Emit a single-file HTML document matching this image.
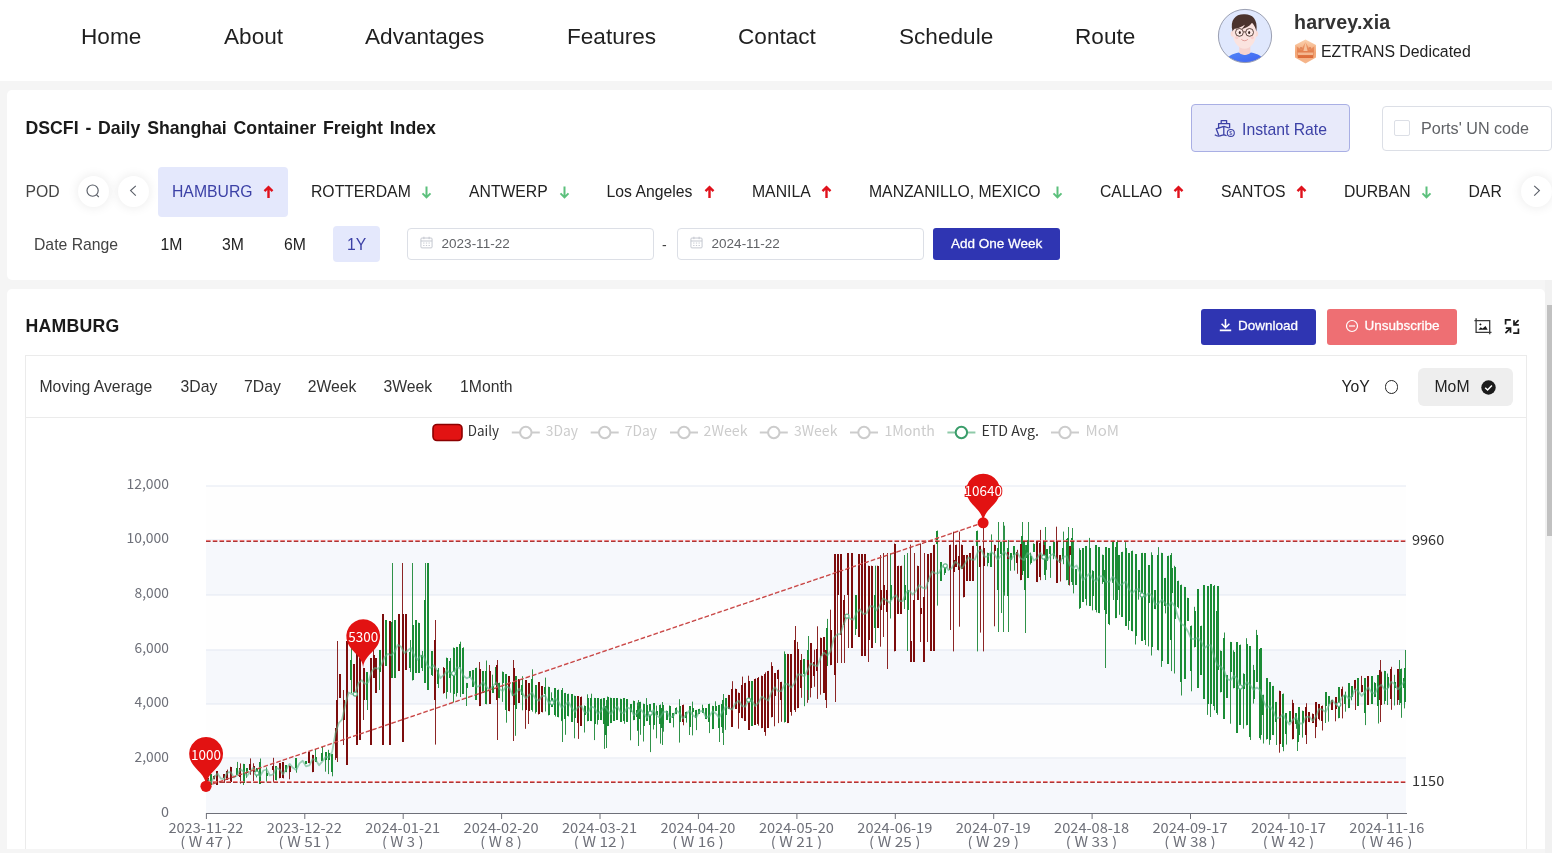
<!DOCTYPE html><html lang="en"><head><meta charset="utf-8"><title>DSCFI - Daily Shanghai Container Freight Index</title><style>
*{box-sizing:border-box;margin:0;padding:0}
html,body{width:1552px;height:853px;overflow:hidden;background:#f5f5f5;font-family:"Liberation Sans",sans-serif;color:#303133}
.abs{position:absolute}
#hdr{position:absolute;left:0;top:0;width:1552px;height:81px;background:#fff}
.nav{position:absolute;top:22.5px;font-size:22.6px;line-height:28px;color:#1f1f1f;white-space:nowrap}
#card1{position:absolute;left:7px;top:90px;width:1560px;height:190px;background:#fff;border-radius:5px}
#card2{position:absolute;left:7px;top:289px;width:1538px;height:580px;background:#fff;border-radius:5px}
.t{position:absolute;white-space:nowrap;font-size:15.75px;line-height:20px}
.h{position:absolute;white-space:nowrap;font-size:17.7px;line-height:22px;font-weight:bold;color:#1a1a1a;letter-spacing:0.25px}
.tab{position:absolute;top:182px;font-size:15.75px;line-height:20px;color:#222;white-space:nowrap}
.circ{position:absolute;width:31px;height:31px;border-radius:50%;background:#fff;box-shadow:0 0 12px rgba(0,0,0,.09)}
.inp{position:absolute;top:228px;height:32px;border:1px solid #dcdfe6;border-radius:4px;background:#fff}
.inp span{position:absolute;left:33.6px;top:7px;font-size:13.5px;line-height:16px;color:#606266}
.btn{position:absolute;border-radius:3px;color:#fff;font-size:13.5px;line-height:16px;white-space:nowrap}
svg{position:absolute;overflow:visible}
</style></head><body>
<div id="hdr">
<div class="nav" style="left:81px">Home</div>
<div class="nav" style="left:224px">About</div>
<div class="nav" style="left:365px">Advantages</div>
<div class="nav" style="left:567px">Features</div>
<div class="nav" style="left:738px">Contact</div>
<div class="nav" style="left:899px">Schedule</div>
<div class="nav" style="left:1075px">Route</div>
<svg style="left:1218px;top:9px" width="54" height="54" viewBox="0 0 54 54"><defs><clipPath id="avc"><circle cx="27" cy="27" r="26.5"/></clipPath><linearGradient id="sh" x1="0" y1="0" x2="1" y2="1"><stop offset="0" stop-color="#4f86f7"/><stop offset="1" stop-color="#3d5cf0"/></linearGradient><linearGradient id="cr" x1="0" y1="0" x2="0" y2="1"><stop offset="0" stop-color="#fbd2b0"/><stop offset="0.55" stop-color="#f2a676"/><stop offset="1" stop-color="#f6b88f"/></linearGradient><linearGradient id="cr2" x1="0" y1="0" x2="0" y2="1"><stop offset="0" stop-color="#f0a273"/><stop offset="1" stop-color="#dc6a38"/></linearGradient></defs>
<circle cx="27" cy="27" r="26.5" fill="#e0e8fd"/>
<g clip-path="url(#avc)">
<path d="M6 56C7 48 14 44.6 21 43.4L27 45.8L33 43.4C40 44.6 47 48 48 56Z" fill="url(#sh)"/>
<path d="M21.3 35H32.3V43.8C30.3 46.6 23.3 46.6 21.3 43.8Z" fill="#f7d3cf"/>
<ellipse cx="14.6" cy="24.8" rx="2" ry="2.9" fill="#f9dcd8"/><ellipse cx="38.2" cy="24.8" rx="2" ry="2.9" fill="#f9dcd8"/>
<path d="M15 16C15 9 38 9 38 16V26C38 33 32.4 39.8 26.5 39.8C20.6 39.8 15 33 15 26Z" fill="#fbe3df"/>
<path d="M14.6 22.4C11.6 11 17.6 5 26 5.2C33.4 4.8 40.2 9 38.4 22.4C37.8 19.4 36.4 16.6 34 13.8C31.6 17.4 27 19.4 23.6 20.2C25 18.8 26.2 17.4 26.8 15.8C23.6 18.2 19.6 19.6 16.6 19.8C15.6 20.4 15 21.4 14.6 22.4Z" fill="#4a332d"/>
<circle cx="21.4" cy="23.4" r="3.9" fill="#fce9e6" stroke="#4a332d" stroke-width="0.9"/><circle cx="31.6" cy="23.4" r="3.9" fill="#fce9e6" stroke="#4a332d" stroke-width="0.9"/>
<path d="M25.3 22.9H27.7" stroke="#4a332d" stroke-width="0.9"/>
<ellipse cx="21.8" cy="23.5" rx="1.05" ry="1.55" fill="#3a2723"/><ellipse cx="31.2" cy="23.5" rx="1.05" ry="1.55" fill="#3a2723"/>
<circle cx="18.8" cy="28.6" r="1.6" fill="#f8c6c4" opacity=".7"/><circle cx="34.2" cy="28.6" r="1.6" fill="#f8c6c4" opacity=".7"/>
<path d="M23.6 30.6C25 32.2 28.2 32.2 29.6 30.6" fill="none" stroke="#d9837c" stroke-width="0.7" stroke-linecap="round"/>
</g>
<circle cx="27" cy="27" r="26.6" fill="none" stroke="#9a9fb2" stroke-width="1"/>
</svg>
<svg style="left:1294px;top:39px" width="23" height="25" viewBox="0 0 23 25"><path d="M11.5 0.4L22 6V18.6L11.5 24.6L1 18.6V6Z" fill="url(#cr)"/><path d="M2.6 7.2L7.2 10.6L11.5 3.2L15.8 10.6L20.4 7.2L19.2 19H3.8Z" fill="url(#cr2)"/><path d="M3.6 13.6H19.4L19 16H4Z" fill="#f7c39d" opacity=".85"/><path d="M11.5 3.2L13.6 12H9.4Z" fill="#f9cfae" opacity=".8"/><circle cx="7" cy="9" r="0.8" fill="#c85a2c"/><circle cx="16" cy="9" r="0.8" fill="#c85a2c"/></svg>

<div class="abs" style="left:1294px;top:10px;font-size:19.6px;line-height:24px;font-weight:bold;color:#333;white-space:nowrap;letter-spacing:0.2px">harvey.xia</div>
<div class="abs" style="left:1321px;top:42px;font-size:15.85px;line-height:20px;color:#222;white-space:nowrap">EZTRANS Dedicated</div>
</div>
<div id="card1"></div>
<div class="h" style="left:25.5px;top:117px;word-spacing:1.9px;letter-spacing:0">DSCFI - Daily Shanghai Container Freight Index</div>
<div class="abs" style="left:1191px;top:104px;width:159px;height:48px;border:1px solid #a9afe4;border-radius:4px;background:#e8eafa"></div>
<svg style="left:1214px;top:119px" width="22" height="19" viewBox="0 0 22 19"><g fill="none" stroke="#3c41a6" stroke-width="1.3" stroke-linejoin="round"><path d="M7.2 4.4V1.6H12.6V4.4"/><path d="M4.6 9.6V4.6H15.6V9.2"/><path d="M9.8 7.4L2.2 9.8L4.8 16.4M9.8 7.4V16.2M9.8 7.4L15 9"/><path d="M0.8 15.8C3 17.4 5.4 17.4 7.6 16.4C9.2 15.7 10.6 15.7 12.6 16.8"/><circle cx="16.8" cy="14" r="3.5" fill="#e8eafa" stroke-width="1.1"/></g><text x="16.8" y="16" font-size="5.5" font-family="Liberation Sans, sans-serif" fill="#3c41a6" text-anchor="middle">$</text></svg>

<div class="t" style="left:1242px;top:120px;color:#3c41a6">Instant Rate</div>
<div class="abs" style="left:1382px;top:106px;width:170px;height:45px;border:1px solid #dcdfe6;border-radius:4px;background:#fff"></div>
<div class="abs" style="left:1394px;top:120px;width:15.5px;height:15.5px;border:1px solid #dcdfe6;border-radius:2px;background:#fff"></div>
<div class="t" style="left:1421px;top:118px;color:#606266;font-size:16.15px">Ports' UN code</div>
<div class="t" style="left:25.5px;top:182px;color:#444">POD</div>
<div class="circ" style="left:77.5px;top:176px"></div>
<svg style="left:85px;top:183px" width="16" height="16" viewBox="0 0 16 16"><circle cx="7.6" cy="7.6" r="5.6" fill="none" stroke="#5a5f68" stroke-width="1.15"/><path d="M11.6 11.8L13.8 14" stroke="#5a5f68" stroke-width="1.15" fill="none"/></svg>
<div class="circ" style="left:117.5px;top:176px"></div>
<svg style="left:127px;top:184px" width="12" height="14" viewBox="0 0 12 14"><path d="M8.8 1.9L3.6 6.6L8.8 11.7" stroke="#5a5f68" stroke-width="1.15" fill="none"/></svg>
<div class="abs" style="left:158px;top:167px;width:130px;height:50px;border-radius:4px;background:#e4e8fc"></div>
<div class="tab" style="left:172px;color:#3c41a6">HAMBURG</div>
<svg style="left:263px;top:185px" width="11" height="13" viewBox="0 0 11 13"><path d="M5.5 13V2.4M1.5 6.1L5.5 2.1L9.5 6.1" fill="none" stroke="#e0121c" stroke-width="2.4" stroke-linejoin="miter"/></svg>
<div class="tab" style="left:311px;color:#222">ROTTERDAM</div>
<svg style="left:421px;top:186.4px" width="11" height="13" viewBox="0 0 11 13"><path d="M5.5 0.5V11.2M1.5 7.4L5.5 11.4L9.5 7.4" fill="none" stroke="#5cc07c" stroke-width="2.0" stroke-linejoin="miter"/></svg>
<div class="tab" style="left:469px;color:#222">ANTWERP</div>
<svg style="left:559px;top:186.4px" width="11" height="13" viewBox="0 0 11 13"><path d="M5.5 0.5V11.2M1.5 7.4L5.5 11.4L9.5 7.4" fill="none" stroke="#5cc07c" stroke-width="2.0" stroke-linejoin="miter"/></svg>
<div class="tab" style="left:606.5px;color:#222">Los Angeles</div>
<svg style="left:704px;top:185px" width="11" height="13" viewBox="0 0 11 13"><path d="M5.5 13V2.4M1.5 6.1L5.5 2.1L9.5 6.1" fill="none" stroke="#e0121c" stroke-width="2.4" stroke-linejoin="miter"/></svg>
<div class="tab" style="left:752px;color:#222">MANILA</div>
<svg style="left:821px;top:185px" width="11" height="13" viewBox="0 0 11 13"><path d="M5.5 13V2.4M1.5 6.1L5.5 2.1L9.5 6.1" fill="none" stroke="#e0121c" stroke-width="2.4" stroke-linejoin="miter"/></svg>
<div class="tab" style="left:869px;color:#222">MANZANILLO, MEXICO</div>
<svg style="left:1052px;top:186.4px" width="11" height="13" viewBox="0 0 11 13"><path d="M5.5 0.5V11.2M1.5 7.4L5.5 11.4L9.5 7.4" fill="none" stroke="#5cc07c" stroke-width="2.0" stroke-linejoin="miter"/></svg>
<div class="tab" style="left:1100px;color:#222">CALLAO</div>
<svg style="left:1173px;top:185px" width="11" height="13" viewBox="0 0 11 13"><path d="M5.5 13V2.4M1.5 6.1L5.5 2.1L9.5 6.1" fill="none" stroke="#e0121c" stroke-width="2.4" stroke-linejoin="miter"/></svg>
<div class="tab" style="left:1221px;color:#222">SANTOS</div>
<svg style="left:1296px;top:185px" width="11" height="13" viewBox="0 0 11 13"><path d="M5.5 13V2.4M1.5 6.1L5.5 2.1L9.5 6.1" fill="none" stroke="#e0121c" stroke-width="2.4" stroke-linejoin="miter"/></svg>
<div class="tab" style="left:1344px;color:#222">DURBAN</div>
<svg style="left:1421px;top:186.4px" width="11" height="13" viewBox="0 0 11 13"><path d="M5.5 0.5V11.2M1.5 7.4L5.5 11.4L9.5 7.4" fill="none" stroke="#5cc07c" stroke-width="2.0" stroke-linejoin="miter"/></svg>
<div class="tab" style="left:1468.5px;color:#222;width:32.2px;overflow:hidden">DAR</div>
<div class="circ" style="left:1520.5px;top:176px"></div>
<svg style="left:1531px;top:184px" width="12" height="14" viewBox="0 0 12 14"><path d="M3.2 1.9L8.4 6.6L3.2 11.7" stroke="#5a5f68" stroke-width="1.15" fill="none"/></svg>
<div class="t" style="left:34px;top:235px;color:#444">Date Range</div>
<div class="abs" style="left:333px;top:226px;width:47px;height:36px;border-radius:4px;background:#e4e8fc"></div>
<div class="t" style="left:160.5px;top:235px;color:#222">1M</div>
<div class="t" style="left:222px;top:235px;color:#222">3M</div>
<div class="t" style="left:284px;top:235px;color:#222">6M</div>
<div class="t" style="left:347px;top:235px;color:#3c41a6">1Y</div>
<div class="inp" style="left:407px;width:247px"><svg style="left:12px;top:6.9px" width="13" height="13" viewBox="0 0 14 14"><rect x="1" y="2.2" width="12" height="10.6" rx="1" fill="none" stroke="#c0c4cc" stroke-width="1"/><path d="M1 5.4H13M4.2 0.8V3.4M9.8 0.8V3.4" stroke="#c0c4cc" stroke-width="1" fill="none"/><path d="M3.4 7.6H4.8M6.3 7.6H7.7M9.2 7.6H10.6M3.4 10.2H4.8M6.3 10.2H7.7M9.2 10.2H10.6" stroke="#c0c4cc" stroke-width="1"/></svg><span>2023-11-22</span></div>
<div class="t" style="left:662px;top:235px;color:#444;font-size:14px">-</div>
<div class="inp" style="left:677px;width:247px"><svg style="left:12px;top:6.9px" width="13" height="13" viewBox="0 0 14 14"><rect x="1" y="2.2" width="12" height="10.6" rx="1" fill="none" stroke="#c0c4cc" stroke-width="1"/><path d="M1 5.4H13M4.2 0.8V3.4M9.8 0.8V3.4" stroke="#c0c4cc" stroke-width="1" fill="none"/><path d="M3.4 7.6H4.8M6.3 7.6H7.7M9.2 7.6H10.6M3.4 10.2H4.8M6.3 10.2H7.7M9.2 10.2H10.6" stroke="#c0c4cc" stroke-width="1"/></svg><span>2024-11-22</span></div>
<div class="btn" style="left:933px;top:228px;width:127px;height:32px;background:#2f35b2;padding:8px 0 0 18px;-webkit-text-stroke:0.28px #fff">Add One Week</div>
<div id="card2"></div>
<div class="h" style="left:25.5px;top:315px">HAMBURG</div>
<div class="btn" style="left:1201px;top:309px;width:115px;height:36px;background:#2f35b2;padding:9px 0 0 37px;-webkit-text-stroke:0.28px #fff">Download</div>
<svg style="left:1219px;top:318.2px" width="13" height="14" viewBox="0 0 13 14"><path d="M6.5 1V9.4M2.6 5.8L6.5 9.7L10.4 5.8M0.8 12.4H12.2" stroke="#fff" stroke-width="1.6" fill="none"/></svg>
<div class="btn" style="left:1327px;top:309px;width:130px;height:36px;background:#ee6f73;padding:9px 0 0 37.5px;-webkit-text-stroke:0.28px #fff">Unsubscribe</div>
<svg style="left:1345px;top:318.9px" width="14" height="14" viewBox="0 0 14 14"><circle cx="7" cy="7" r="5.5" fill="none" stroke="#fff" stroke-width="1.2"/><path d="M4 7H10" stroke="#fff" stroke-width="1.2"/></svg>
<svg style="left:1473px;top:317px" width="20" height="19" viewBox="0 0 20 19"><path d="M3.1 1.2V15.3H18.5M1.4 3.7H16.7V17.3" fill="none" stroke="#3a3a3a" stroke-width="1.3"/><path d="M5.4 12.8L7.6 10.2L9.6 11.6L12.5 9L14.7 12.8Z" fill="#1a1a1a"/><path d="M7.4 6.2L8.6 7.4L7.4 8.6L6.2 7.4Z" fill="#1a1a1a"/></svg>
<svg style="left:1504px;top:318px" width="16" height="17" viewBox="0 0 16 17"><g fill="none" stroke="#1a1a1a" stroke-width="1.7"><path d="M1.6 6.6V1.9H6.8"/><path d="M14.4 10.4V15.2H9.2"/><path d="M14.6 2.2L10.2 6.6M10 2.2V6.9H14.8"/><path d="M1.4 15.2L6.2 10.4M1.8 10.2H6.5V14.8"/></g></svg>

<div class="abs" style="left:25px;top:355px;width:1502px;height:520px;border:1px solid #ebebeb;background:#fff"></div>
<div class="abs" style="left:25px;top:417px;width:1502px;height:1px;background:#ebebeb"></div>
<div class="t" style="left:39.5px;top:377.3px;color:#333">Moving Average</div>
<div class="t" style="left:180.5px;top:377.3px;color:#333">3Day</div>
<div class="t" style="left:244px;top:377.3px;color:#333">7Day</div>
<div class="t" style="left:307.7px;top:377.3px;color:#333">2Week</div>
<div class="t" style="left:383.5px;top:377.3px;color:#333">3Week</div>
<div class="t" style="left:460px;top:377.3px;color:#333">1Month</div>
<div class="t" style="left:1341.5px;top:377.3px;color:#222">YoY</div>
<div class="abs" style="left:1384.5px;top:380px;width:13.5px;height:13.5px;border:1.8px solid #222;border-radius:50%"></div>
<div class="abs" style="left:1418px;top:368px;width:95px;height:38px;border-radius:6px;background:#eeeeee"></div>
<div class="t" style="left:1434.5px;top:377.3px;color:#222">MoM</div>
<svg style="left:1481px;top:379.5px" width="15" height="15" viewBox="0 0 15 15"><circle cx="7.5" cy="7.5" r="7.2" fill="#1a1a1a"/><path d="M4.2 7.7L6.6 10L10.9 5.4" stroke="#fff" stroke-width="1.5" fill="none"/></svg>
<svg style="left:0;top:0" width="1552" height="853" viewBox="0 0 1552 853">
<rect x="206.0" y="758.50" width="1200.0" height="54.50" fill="#f6f8fc"/>
<rect x="206.0" y="704.00" width="1200.0" height="54.50" fill="#fefefe"/>
<rect x="206.0" y="649.50" width="1200.0" height="54.50" fill="#f6f8fc"/>
<rect x="206.0" y="595.00" width="1200.0" height="54.50" fill="#fefefe"/>
<rect x="206.0" y="540.50" width="1200.0" height="54.50" fill="#f6f8fc"/>
<rect x="206.0" y="486.00" width="1200.0" height="54.50" fill="#fefefe"/>
<path d="M206.0 758H1406.0" stroke="#e3e8f2" stroke-width="1"/>
<path d="M206.0 704H1406.0" stroke="#e3e8f2" stroke-width="1"/>
<path d="M206.0 650H1406.0" stroke="#e3e8f2" stroke-width="1"/>
<path d="M206.0 595H1406.0" stroke="#e3e8f2" stroke-width="1"/>
<path d="M206.0 540H1406.0" stroke="#e3e8f2" stroke-width="1"/>
<path d="M206.0 486H1406.0" stroke="#e3e8f2" stroke-width="1"/>
<path d="M210.5 774.4V784.8M237.5 761.9V775.1M243.5 763.8V785.0M246.5 768.3V777.8M256.5 768.3V777.4M260.5 758.5V783.7M266.5 767.4V781.6M276.5 766.0V780.4M286.5 765.5V772.2M296.5 758.5V772.7M306.5 761.1V763.9M315.5 749.1V761.6M322.5 746.2V760.9M325.5 752.2V771.7M328.5 749.8V774.1M332.5 753.8V776.3M446.5 657.6V698.7M450.5 658.0V692.8M453.5 647.5V702.4M456.5 646.9V696.5M460.5 641.7V697.0M463.5 647.3V693.9M466.5 682.9V706.0M469.5 671.3V677.9M473.5 670.5V686.9M476.5 667.7V699.6M483.5 671.0V693.0M486.5 660.5V704.3M492.5 674.7V692.5M496.5 667.1V687.6M499.5 682.7V698.2M502.5 671.5V701.9M506.5 674.5V722.7M512.5 682.3V696.1M515.5 676.1V735.8M522.5 676.2V710.3M532.5 669.3V711.7M535.5 685.0V713.5M545.5 677.6V711.5M548.5 686.7V715.4M551.5 692.3V706.7M555.5 688.3V716.5M558.5 689.5V717.3M561.5 692.5V721.1M565.5 692.9V734.8M568.5 693.7V716.4M571.5 694.0V721.6M574.5 695.7V738.3M584.5 705.4V732.5M587.5 694.3V721.3M591.5 693.7V721.1M594.5 697.9V740.1M597.5 698.1V724.6M601.5 698.6V720.1M604.5 698.5V748.9M607.5 696.5V726.1M610.5 697.7V723.1M614.5 698.1V720.6M617.5 698.5V719.5M620.5 698.7V721.8M624.5 698.1V723.8M627.5 699.3V721.9M630.5 704.0V740.3M633.5 700.6V720.2M637.5 702.6V730.9M640.5 701.8V734.8M643.5 703.6V741.5M646.5 698.1V721.1M650.5 704.1V752.1M653.5 703.5V729.5M656.5 705.5V738.3M660.5 704.5V743.6M663.5 705.2V731.7M666.5 710.6V719.8M669.5 705.5V722.9M673.5 713.3V727.4M676.5 707.3V714.2M679.5 699.2V742.6M686.5 711.6V722.6M689.5 706.5V735.0M692.5 701.6V735.4M696.5 709.9V730.1M699.5 708.8V713.8M702.5 704.7V712.5M706.5 708.3V719.1M709.5 703.7V733.1M712.5 705.8V729.1M715.5 701.3V711.2M719.5 704.9V742.0M722.5 704.4V733.0M725.5 698.2V729.9M751.5 681.4V725.9M784.5 651.4V722.5M804.5 659.5V706.2M827.5 618.9V666.0M987.5 552.7V566.3M991.5 534.4V566.5M997.5 556.8V578.8M1001.5 541.7V613.0M1004.5 525.7V595.7M1010.5 553.0V570.8M1014.5 546.0V570.6M1024.5 540.6V572.7M1027.5 541.7V564.5M1030.5 552.6V564.5M1033.5 543.3V552.0M1046.5 549.0V569.9M1050.5 546.3V577.9M1053.5 541.7V559.2M1063.5 531.6V564.2M1066.5 539.4V580.3M1073.5 540.4V593.4M1076.5 569.0V584.9M1079.5 548.2V608.9M1083.5 548.0V601.6M1086.5 546.5V605.4M1089.5 537.9V605.9M1092.5 570.2V610.4M1096.5 545.2V612.4M1099.5 547.5V613.2M1102.5 554.6V583.9M1106.5 547.5V613.7M1109.5 548.2V625.1M1112.5 559.5V582.9M1115.5 547.4V618.2M1119.5 555.2V614.8M1122.5 551.8V616.7M1125.5 542.1V625.7M1128.5 553.3V629.9M1132.5 550.6V631.3M1135.5 554.4V644.5M1138.5 570.4V599.7M1142.5 552.9V641.0M1145.5 569.2V643.8M1148.5 565.1V646.4M1151.5 552.3V655.5M1155.5 590.5V609.2M1158.5 547.1V650.4M1161.5 552.8V666.9M1165.5 577.9V613.4M1168.5 555.7V663.9M1171.5 567.5V671.1M1174.5 565.8V673.5M1178.5 580.7V608.3M1181.5 584.6V695.5M1184.5 586.9V678.9M1187.5 597.8V620.9M1191.5 625.5V691.3M1194.5 606.8V647.4M1197.5 589.4V687.5M1201.5 625.7V674.9M1204.5 585.4V698.9M1207.5 586.4V714.9M1210.5 584.3V717.0M1214.5 585.0V710.2M1217.5 610.9V714.8M1220.5 650.5V692.4M1224.5 632.5V719.0M1227.5 675.0V697.7M1230.5 641.9V723.7M1233.5 650.3V688.3M1237.5 642.3V733.0M1240.5 644.6V724.6M1243.5 673.3V728.7M1246.5 638.2V725.3M1250.5 646.1V740.0M1253.5 664.9V703.6M1256.5 629.9V681.8M1260.5 648.6V739.7M1263.5 694.7V743.5M1266.5 678.2V739.6M1269.5 682.0V744.8M1273.5 685.9V735.1M1276.5 701.9V745.0M1283.5 693.5V751.2M1286.5 713.0V744.6M1289.5 711.1V722.4M1296.5 713.1V728.8M1299.5 707.1V734.6M1302.5 710.6V737.6M1325.5 692.5V723.0M1328.5 696.0V721.7M1338.5 687.3V718.3M1345.5 691.6V711.7M1348.5 683.3V708.1M1351.5 686.2V700.3M1358.5 678.2V705.7M1365.5 678.3V725.1M1371.5 676.2V703.8M1374.5 682.2V697.1M1378.5 675.1V723.5M1384.5 670.8V704.2M1387.5 673.5V705.0M1394.5 674.8V705.5M1401.5 668.5V717.8M1404.5 678.3V708.4M351.5 648.0V693.0M367.5 672.0V710.0M379.5 650.0V690.0M385.5 620.0V666.0M392.5 563.0V678.0M395.5 620.0V678.0M410.5 640.0V672.0M412.5 563.0V680.5M415.5 620.0V673.0M418.5 622.7V673.0M422.5 651.0V671.0M425.5 563.0V683.0M428.5 563.0V690.0M432.5 651.0V676.0M438.5 668.0V688.0M562.5 688.0V742.0M606.5 700.0V748.0M638.5 700.0V746.0M662.5 702.0V745.0M723.5 694.0V745.0M808.5 636.0V700.0M998.5 522.0V632.0M1003.5 522.0V632.0M1008.5 540.0V632.0M1022.5 522.0V575.0M1028.5 522.0V578.0M1025.5 545.0V633.0M1045.5 527.0V580.0M1068.5 527.0V585.0M1072.5 528.0V585.0M1105.5 560.0V668.0M1113.5 540.0V600.0M1117.5 540.0V600.0M1145.5 553.0V645.0M1171.5 553.0V660.0M1214.5 586.0V680.0M1217.5 586.0V684.0M1261.5 648.0V735.0M1297.5 720.0V751.0M1399.5 660.0V705.0M1405.5 650.0V702.0M855.5 595.0V635.0M875.5 565.7V643.0M890.5 553.0V618.5M904.5 555.0V609.0M907.5 553.0V651.0M937.5 530.6V605.6M941.5 562.0V581.0M944.5 565.0V575.0M977.5 530.6V651.4" stroke="#2f9249" stroke-width="1" fill="none"/>
<path d="M207.5 777.5V785.6M214.5 775.5V779.3M217.5 771.0V784.7M224.5 774.5V782.9M227.5 769.6V779.8M230.5 766.8V783.0M240.5 763.4V783.6M250.5 758.4V774.8M253.5 763.3V781.1M273.5 757.8V782.0M279.5 763.1V778.3M283.5 762.3V778.4M289.5 765.4V779.3M309.5 752.0V763.2M312.5 754.8V772.2M335.5 728.5V759.9M443.5 667.0V693.7M479.5 662.0V706.1M489.5 665.0V703.8M509.5 676.5V711.3M519.5 679.0V703.0M525.5 680.1V728.8M528.5 683.1V724.0M538.5 682.3V714.5M542.5 686.1V712.4M578.5 696.1V738.9M581.5 696.5V725.5M683.5 704.6V725.3M728.5 694.9V708.7M732.5 681.2V726.7M735.5 688.7V708.9M738.5 692.6V728.7M742.5 676.6V718.3M745.5 682.8V721.0M748.5 675.7V730.0M755.5 678.6V724.7M758.5 677.0V725.7M761.5 675.6V728.2M765.5 672.4V735.8M768.5 670.9V727.8M771.5 662.2V717.4M774.5 673.1V726.3M778.5 669.7V723.1M781.5 681.8V721.8M787.5 653.9V723.1M791.5 654.2V715.7M794.5 653.9V710.0M797.5 641.9V708.2M801.5 654.0V697.8M807.5 659.6V702.8M810.5 643.5V697.4M814.5 649.7V686.8M817.5 626.3V698.9M820.5 637.6V694.7M824.5 637.1V692.5M830.5 609.7V665.2M994.5 544.7V626.3M1007.5 552.2V558.9M1017.5 549.8V573.8M1020.5 544.1V580.2M1037.5 541.4V582.1M1040.5 529.9V580.2M1043.5 540.0V559.1M1056.5 526.7V582.6M1060.5 555.1V581.5M1069.5 546.4V585.5M1279.5 690.7V752.7M1292.5 699.8V739.4M1306.5 703.2V744.0M1309.5 712.0V722.1M1312.5 713.5V722.6M1315.5 702.1V738.1M1319.5 704.2V720.3M1322.5 705.5V730.5M1332.5 699.9V709.9M1335.5 697.1V721.3M1342.5 686.6V718.4M1355.5 679.9V710.0M1361.5 675.9V692.3M1368.5 676.3V704.9M1381.5 671.6V704.7M1391.5 666.8V709.8M1397.5 669.3V704.9M337.5 641.0V762.0M340.5 674.0V698.0M343.5 690.0V745.0M347.5 641.0V765.0M354.5 664.0V693.0M357.5 653.0V744.6M360.5 658.0V740.0M363.5 668.0V720.0M370.5 658.0V744.6M373.5 648.0V678.0M376.5 658.0V693.0M382.5 614.5V744.6M389.5 621.0V744.6M398.5 614.5V670.7M402.5 563.0V742.0M406.5 614.5V670.0M435.5 620.0V744.6M497.5 660.0V740.0M513.5 660.0V741.0M795.5 626.0V712.0M826.5 642.0V708.0M1380.5 660.0V722.0M835.5 554.0V702.0M837.5 554.0V663.0M841.5 554.0V663.0M844.5 595.0V663.0M848.5 553.0V648.0M852.5 553.0V648.0M859.5 554.0V637.0M862.5 554.0V656.0M865.5 554.0V656.0M868.5 565.7V662.0M871.5 565.7V648.0M877.5 565.7V628.0M880.5 555.0V646.7M883.5 553.0V637.0M887.5 553.0V669.0M894.5 543.5V651.4M898.5 565.7V613.8M901.5 565.7V613.8M910.5 544.6V662.0M914.5 553.0V662.0M917.5 565.7V600.0M920.5 543.5V642.0M924.5 553.0V662.0M927.5 554.0V642.0M930.5 553.0V651.0M934.5 544.6V651.0M950.5 544.6V630.0M953.5 531.7V651.4M956.5 544.6V567.0M959.5 531.7V626.7M961.5 544.6V569.0M963.5 555.0V597.4M967.5 555.0V581.0M970.5 553.0V581.0M973.5 545.8V581.0M980.5 545.8V632.6M983.5 523.0V651.4" stroke="#8c2626" stroke-width="1" fill="none"/>
<path d="M211 774V785M237 768V775M244 764V783M247 768V773M257 768V775M260 762V784M267 773V776M276 766V780M286 765V772M296 758V768M306 761V764M316 757V762M322 753V761M326 752V760M329 753V760M332 754V772M447 658V692M450 661V678M454 648V694M457 647V693M460 644V667M463 648V694M467 683V688M470 671V677M473 670V687M476 668V700M483 671V693M486 671V704M493 686V693M496 667V685M499 683V698M503 672V683M506 674V710M513 682V696M516 676V709M522 685V695M532 679V710M536 685V712M545 687V694M549 687V715M552 698V707M555 688V715M558 690V717M562 692V715M565 693V719M568 694V716M572 694V722M575 696V718M585 706V715M588 698V721M591 698V721M595 698V724M598 698V720M601 699V720M604 698V724M608 697V726M611 698V723M614 698V721M617 698V720M621 699V722M624 698V721M627 699V722M631 704V712M634 701V720M637 710V717M640 702V719M644 704V726M647 705V721M650 704V725M654 703V725M657 711V715M660 705V724M663 705V724M667 711V720M670 706V723M673 713V718M676 708V714M680 706V722M686 712V718M690 706V727M693 708V712M696 710V718M699 709V714M703 708V713M706 708V719M709 704V722M713 706V729M716 706V711M719 705V728M722 704V727M726 698V715M752 681V726M785 654V722M804 659V674M827 628V666M988 553V563M991 553V567M998 557V562M1001 542V554M1004 542V569M1011 553V560M1014 546V555M1024 541V571M1027 545V558M1031 556V563M1034 544V552M1047 549V561M1050 546V554M1054 542V556M1063 548V559M1067 539V580M1073 548V559M1076 569V585M1080 550V608M1083 548V602M1086 546V599M1090 548V606M1093 571V596M1096 545V610M1099 547V613M1103 555V582M1106 547V614M1109 548V624M1113 560V581M1116 547V618M1119 555V590M1122 552V617M1126 548V626M1129 553V621M1132 551V631M1136 554V636M1139 570V592M1142 553V641M1145 569V594M1149 565V603M1152 555V647M1155 590V609M1158 555V650M1162 553V661M1165 578V606M1168 556V664M1172 568V593M1175 567V619M1178 581V607M1181 585V682M1185 587V679M1188 598V621M1191 626V671M1195 611V647M1198 589V688M1201 626V675M1204 585V699M1208 586V704M1211 584V704M1214 587V706M1217 611V713M1221 651V692M1224 638V719M1227 675V698M1231 642V672M1234 652V688M1237 642V733M1240 645V725M1244 674V689M1247 644V725M1250 646V737M1254 670V699M1257 635V682M1260 649V738M1263 695V715M1267 678V739M1270 682V740M1273 686V735M1276 702V722M1283 694V747M1286 713V734M1290 711V722M1296 713V724M1299 707V735M1303 711V723M1326 692V706M1329 696V704M1339 687V718M1345 695V704M1349 683V708M1352 686V697M1358 678V706M1365 678V713M1372 676V704M1375 683V697M1378 675V706M1385 671V701M1388 677V688M1395 682V688M1401 669V703M1404 678V688M351 660V680M367 672V700M380 650V672M386 620V666M392 622V678M395 620V678M410 652V668M413 625V680M416 620V673M419 623V673M422 655V668M425 600V683M428 563V690M432 651V675M438 670V684M562 690V720M606 706V735M638 706V730M662 708V728M723 700V728M808 650V690M998 548V590M1004 546V592M1008 548V596M1022 536V575M1028 540V578M1025 550V590M1045 542V575M1068 538V580M1072 538V582M1105 570V610M1113 542V570M1117 542V570M1145 553V640M1171 555V640M1214 586V665M1218 586V670M1261 648V715M1298 735V742M1400 672V700M1405 668V702M856 595V629M875 595V628M891 585V600M905 585V600M908 590V610M937 531V544M941 562V581M945 567V573M977 531V546" stroke="#1b8c36" stroke-width="2" fill="none"/>
<path d="M208 778V784M214 776V779M217 771V785M224 774V778M227 771V780M231 767V782M240 768V777M250 764V770M254 766V772M273 766V770M280 763V778M283 762V778M290 766V772M309 752V763M313 755V772M336 728V758M444 668V693M480 669V706M490 671V704M509 676V711M519 679V703M526 680V710M529 683V711M539 682V714M542 686V712M578 696V723M581 697V726M683 705V722M729 695V709M732 689V727M736 689V709M739 693V713M742 685V718M745 683V721M749 681V730M755 679V725M758 678V724M762 676V728M765 674V732M768 671V728M772 666V717M775 673V696M778 670V679M781 682V700M788 654V723M791 654V712M795 654V710M798 649V708M801 660V688M808 660V675M811 643V688M814 662V676M817 649V671M821 638V656M824 637V693M831 630V665M995 545V551M1008 552V559M1017 552V563M1021 544V580M1037 541V582M1040 543V577M1044 545V559M1057 541V583M1060 555V563M1070 546V555M1280 691V744M1293 703V739M1306 707V735M1309 712V722M1313 714V723M1316 702V727M1319 704V719M1322 706V721M1332 700V710M1336 697V709M1342 689V697M1355 680V690M1362 685V692M1368 676V705M1381 672V705M1391 669V699M1398 669V700M337 700V730M340 674V698M344 700V720M347 641V765M354 664V693M357 653V745M360 658V740M364 668V700M371 658V745M374 655V678M376 658V693M383 614V745M390 621V745M399 614V671M403 614V742M406 614V670M435 640V700M497 665V700M514 668V705M795 640V700M826 650V700M1380 670V700M835 554V675M838 554V595M841 554V635M844 600V625M848 553V595M852 553V648M859 554V637M862 554V656M865 554V656M869 566V640M872 566V648M878 566V628M881 590V610M884 585V605M887 590V612M895 544V651M898 566V614M901 566V614M911 641V662M914 600V662M918 566V600M921 608V614M924 597V662M928 554V582M931 553V651M934 545V651M950 545V570M954 560V572M956 545V567M959 556V570M962 545V569M964 555V597M967 555V581M970 553V581M973 546V581M980 546V567M984 548V566" stroke="#7d0d0d" stroke-width="2" fill="none"/>
<path d="M207.6 779.2 L210.9 782.7 L214.2 777.3 L217.5 773.6 L220.8 778.5 L224.0 779.1 L227.3 772.5 L230.6 772.1 L233.9 777.4 L237.1 775.3 L240.4 769.3 L243.7 771.7 L247.0 776.0 L250.3 771.4 L253.5 767.7 L256.8 773.2 L260.1 776.0 L263.4 770.5 L266.7 769.5 L269.9 775.5 L273.2 774.3 L276.5 767.9 L279.8 769.5 L283.0 774.3 L286.3 769.3 L289.6 763.9 L292.9 767.8 L296.2 770.0 L299.4 763.4 L302.7 760.7 L306.0 766.4 L309.3 765.5 L312.6 759.1 L315.8 760.0 L319.1 765.2 L322.4 761.4 L325.7 756.8 L329.0 757.4 L332.2 751.6 L335.5 733.2 L338.8 723.0 L342.1 719.4 L345.3 704.8 L348.6 692.5 L351.9 694.1 L355.2 694.1 L358.5 683.0 L361.7 680.1 L365.0 684.0 L368.3 682.3 L371.6 671.5 L374.9 667.8 L378.1 668.8 L381.4 665.0 L384.7 656.8 L388.0 653.8 L391.2 655.4 L394.5 652.2 L397.8 644.9 L401.1 646.8 L404.4 653.3 L407.6 650.5 L410.9 647.9 L414.2 655.4 L417.5 659.7 L420.8 655.5 L424.0 656.7 L427.3 665.5 L430.6 667.9 L433.9 665.3 L437.1 670.8 L440.4 678.2 L443.7 675.2 L447.0 670.3 L450.3 673.4 L453.5 673.5 L456.8 667.3 L460.1 668.0 L463.4 675.7 L466.7 678.4 L469.9 676.7 L473.2 681.0 L476.5 686.9 L479.8 685.9 L483.0 682.0 L486.3 686.7 L489.6 689.9 L492.9 686.0 L496.2 682.5 L499.4 689.0 L502.7 691.1 L506.0 686.7 L509.3 687.6 L512.6 695.2 L515.8 693.6 L519.1 688.7 L522.4 693.0 L525.7 698.3 L529.0 695.0 L532.2 692.7 L535.5 698.8 L538.8 700.7 L542.1 695.8 L545.3 696.0 L548.6 702.7 L551.9 702.6 L555.2 698.5 L558.5 701.8 L561.7 707.7 L565.0 705.1 L568.3 701.8 L571.6 707.7 L574.9 711.7 L578.1 707.0 L581.4 706.0 L584.7 712.4 L588.0 712.6 L591.2 706.5 L594.5 707.9 L597.8 713.7 L601.1 711.0 L604.4 706.2 L607.6 710.5 L610.9 714.2 L614.2 709.0 L617.5 706.4 L620.8 712.3 L624.0 713.2 L627.3 707.5 L630.6 708.8 L633.9 715.0 L637.1 713.5 L640.4 709.0 L643.7 713.1 L647.0 717.6 L650.3 713.2 L653.5 710.0 L656.8 715.7 L660.1 717.6 L663.4 711.7 L666.7 711.8 L669.9 717.5 L673.2 716.2 L676.5 710.4 L679.8 713.3 L683.0 718.4 L686.3 714.3 L689.6 710.4 L692.9 715.3 L696.2 717.5 L699.4 711.5 L702.7 710.8 L706.0 717.2 L709.3 716.5 L712.6 711.3 L715.8 713.4 L719.1 717.6 L722.4 712.0 L725.7 706.5 L729.0 708.3 L732.2 709.5 L735.5 703.2 L738.8 700.8 L742.1 706.0 L745.3 706.6 L748.6 700.1 L751.9 700.7 L755.2 706.0 L758.5 702.7 L761.7 696.6 L765.0 698.8 L768.3 700.5 L771.6 692.0 L774.9 687.3 L778.1 691.0 L781.4 691.2 L784.7 684.1 L788.0 684.1 L791.2 687.6 L794.5 683.3 L797.8 674.4 L801.1 674.6 L804.4 676.4 L807.6 669.8 L810.9 663.5 L814.2 665.4 L817.5 666.0 L820.8 656.9 L824.0 652.6 L827.3 655.6 L830.6 651.1 L833.9 637.9 L837.1 634.5 L840.4 633.8 L843.7 624.3 L847.0 616.2 L850.3 618.8 L853.5 619.7 L856.8 612.4 L860.1 609.4 L863.4 614.2 L866.7 613.2 L869.9 606.1 L873.2 606.4 L876.5 610.3 L879.8 605.5 L883.0 598.5 L886.3 600.3 L889.6 602.8 L892.9 597.5 L896.2 595.2 L899.4 601.0 L902.7 601.1 L906.0 592.5 L909.3 590.6 L912.6 594.6 L915.8 591.1 L919.1 585.3 L922.4 587.6 L925.7 588.6 L929.0 578.8 L932.2 571.4 L935.5 573.4 L938.8 573.2 L942.1 566.3 L945.3 565.8 L948.6 570.1 L951.9 567.9 L955.2 561.7 L958.5 563.9 L961.7 568.4 L965.0 563.6 L968.3 557.5 L971.6 559.7 L974.9 559.5 L978.1 551.3 L981.4 550.0 L984.7 556.8 L988.0 556.4 L991.2 551.9 L994.5 554.4 L997.8 559.4 L1001.1 555.6 L1004.4 551.8 L1007.6 555.3 L1010.9 559.8 L1014.2 555.1 L1017.5 553.1 L1020.8 558.5 L1024.0 560.1 L1027.3 553.2 L1030.6 554.3 L1033.9 560.6 L1037.1 558.3 L1040.4 552.9 L1043.7 557.1 L1047.0 560.1 L1050.3 555.7 L1053.5 553.8 L1056.8 559.4 L1060.1 562.1 L1063.4 556.6 L1066.7 556.4 L1069.9 565.6 L1073.2 568.0 L1076.5 565.4 L1079.8 572.0 L1083.0 580.2 L1086.3 576.8 L1089.6 573.3 L1092.9 579.3 L1096.2 581.4 L1099.4 576.3 L1102.7 576.1 L1106.0 581.8 L1109.3 581.7 L1112.6 576.7 L1115.8 579.7 L1119.1 585.4 L1122.4 584.1 L1125.7 581.4 L1129.0 589.3 L1132.2 593.2 L1135.5 589.9 L1138.8 588.8 L1142.1 595.0 L1145.3 596.5 L1148.6 593.2 L1151.9 595.8 L1155.2 604.6 L1158.5 603.3 L1161.7 599.9 L1165.0 602.8 L1168.3 606.3 L1171.6 602.1 L1174.9 606.4 L1178.1 617.2 L1181.4 623.9 L1184.7 626.1 L1188.0 631.5 L1191.2 638.6 L1194.5 639.1 L1197.8 637.8 L1201.1 641.6 L1204.4 648.3 L1207.6 645.3 L1210.9 645.2 L1214.2 656.7 L1217.5 665.1 L1220.8 666.6 L1224.0 670.4 L1227.3 679.1 L1230.6 680.3 L1233.9 675.8 L1237.1 678.6 L1240.4 687.0 L1243.7 686.0 L1247.0 682.2 L1250.3 685.2 L1253.5 689.8 L1256.8 687.4 L1260.1 689.9 L1263.4 700.7 L1266.7 707.8 L1269.9 706.0 L1273.2 710.8 L1276.5 718.3 L1279.8 717.3 L1283.0 714.1 L1286.3 720.2 L1289.6 724.6 L1292.9 719.8 L1296.2 717.3 L1299.4 723.5 L1302.7 723.5 L1306.0 716.9 L1309.3 716.6 L1312.6 721.0 L1315.8 716.9 L1319.1 708.9 L1322.4 709.7 L1325.7 711.9 L1329.0 705.2 L1332.2 700.1 L1335.5 704.0 L1338.8 704.5 L1342.1 696.7 L1345.3 694.9 L1348.6 698.4 L1351.9 696.2 L1355.2 689.1 L1358.5 691.7 L1361.7 696.0 L1365.0 691.8 L1368.3 687.5 L1371.6 692.4 L1374.9 693.7 L1378.1 686.9 L1381.4 684.8 L1384.7 689.8 L1388.0 688.2 L1391.2 681.8 L1394.5 683.9 L1397.8 689.3 L1401.1 685.8 L1404.4 681.5" stroke="#5fb487" stroke-opacity="0.6" stroke-width="1.8" fill="none" stroke-linejoin="round"/>
<circle cx="256.8" cy="773.2" r="2" fill="#fff" stroke="#5fb487" stroke-width="1.2"/>
<circle cx="355.2" cy="694.1" r="2" fill="#fff" stroke="#5fb487" stroke-width="1.2"/>
<circle cx="453.5" cy="673.5" r="2" fill="#fff" stroke="#5fb487" stroke-width="1.2"/>
<circle cx="551.9" cy="702.6" r="2" fill="#fff" stroke="#5fb487" stroke-width="1.2"/>
<circle cx="650.3" cy="713.2" r="2" fill="#fff" stroke="#5fb487" stroke-width="1.2"/>
<circle cx="748.6" cy="700.1" r="2" fill="#fff" stroke="#5fb487" stroke-width="1.2"/>
<circle cx="847.0" cy="616.2" r="2" fill="#fff" stroke="#5fb487" stroke-width="1.2"/>
<circle cx="945.3" cy="565.8" r="2" fill="#fff" stroke="#5fb487" stroke-width="1.2"/>
<circle cx="1043.7" cy="557.1" r="2" fill="#fff" stroke="#5fb487" stroke-width="1.2"/>
<circle cx="1142.1" cy="595.0" r="2" fill="#fff" stroke="#5fb487" stroke-width="1.2"/>
<circle cx="1240.4" cy="687.0" r="2" fill="#fff" stroke="#5fb487" stroke-width="1.2"/>
<circle cx="1338.8" cy="704.5" r="2" fill="#fff" stroke="#5fb487" stroke-width="1.2"/>
<path d="M206.0 540.5H1406.0M206.0 781.5H1406.0" stroke="#ee6a68" stroke-width="0.9" stroke-dasharray="4.6 2.15" fill="none"/>
<path d="M206.0 541.5H1406.0M206.0 782.5H1406.0" stroke="#a02020" stroke-width="0.9" stroke-dasharray="4.6 2.15" fill="none"/>
<path d="M206 786L983 522.5" stroke="#ee6a68" stroke-width="1.1" stroke-dasharray="4.6 2.15" fill="none"/>
<path d="M206 786.5L983 523" stroke="#a02020" stroke-width="0.7" stroke-dasharray="4.6 2.15" fill="none"/>
<circle cx="206" cy="786.3" r="5.6" fill="#e21212"/><circle cx="983.1" cy="522.8" r="5.5" fill="#e21212"/>
<path d="M190.82 761.12A16.9 16.9 0 1 1 221.38 761.12C217.06 770.29 206.10 774.47 206.10 786.30C206.10 774.47 195.14 770.29 190.82 761.12Z" fill="#e21212"/>
<text x="206.1" y="759.6" font-family='"Noto Sans CJK SC","DejaVu Sans",sans-serif' font-size="13.3" fill="#fff" stroke="#e21212" stroke-width="2" paint-order="stroke" text-anchor="middle" textLength="30" lengthAdjust="spacingAndGlyphs">1000</text>
<path d="M347.92 643.42A16.9 16.9 0 1 1 378.48 643.42C374.16 652.59 363.20 656.77 363.20 668.60C363.20 656.77 352.24 652.59 347.92 643.42Z" fill="#e21212"/>
<text x="363.2" y="641.9" font-family='"Noto Sans CJK SC","DejaVu Sans",sans-serif' font-size="13.3" fill="#fff" stroke="#e21212" stroke-width="2" paint-order="stroke" text-anchor="middle" textLength="30" lengthAdjust="spacingAndGlyphs">5300</text>
<path d="M967.92 497.82A16.9 16.9 0 1 1 998.48 497.82C994.16 506.99 983.20 511.17 983.20 523.00C983.20 511.17 972.24 506.99 967.92 497.82Z" fill="#e21212"/>
<text x="983.2" y="496.3" font-family='"Noto Sans CJK SC","DejaVu Sans",sans-serif' font-size="13.3" fill="#fff" stroke="#e21212" stroke-width="2" paint-order="stroke" text-anchor="middle" textLength="37.5" lengthAdjust="spacingAndGlyphs">10640</text>
<path d="M206.0 813.5H1407.0" stroke="#6e7079" stroke-width="1"/>
<text x="205.9" y="832.6" font-family='"Noto Sans CJK SC","DejaVu Sans",sans-serif' font-size="14" fill="#6e7079" text-anchor="middle" textLength="75" lengthAdjust="spacingAndGlyphs">2023-11-22</text>
<text x="205.9" y="846.8" font-family='"Noto Sans CJK SC","DejaVu Sans",sans-serif' font-size="14" fill="#6e7079" text-anchor="middle" textLength="51.5" lengthAdjust="spacingAndGlyphs">( W 47 )</text>
<text x="304.3" y="832.6" font-family='"Noto Sans CJK SC","DejaVu Sans",sans-serif' font-size="14" fill="#6e7079" text-anchor="middle" textLength="75" lengthAdjust="spacingAndGlyphs">2023-12-22</text>
<text x="304.3" y="846.8" font-family='"Noto Sans CJK SC","DejaVu Sans",sans-serif' font-size="14" fill="#6e7079" text-anchor="middle" textLength="51.5" lengthAdjust="spacingAndGlyphs">( W 51 )</text>
<text x="402.7" y="832.6" font-family='"Noto Sans CJK SC","DejaVu Sans",sans-serif' font-size="14" fill="#6e7079" text-anchor="middle" textLength="75" lengthAdjust="spacingAndGlyphs">2024-01-21</text>
<text x="402.7" y="846.8" font-family='"Noto Sans CJK SC","DejaVu Sans",sans-serif' font-size="14" fill="#6e7079" text-anchor="middle" textLength="41.5" lengthAdjust="spacingAndGlyphs">( W 3 )</text>
<text x="501.1" y="832.6" font-family='"Noto Sans CJK SC","DejaVu Sans",sans-serif' font-size="14" fill="#6e7079" text-anchor="middle" textLength="75" lengthAdjust="spacingAndGlyphs">2024-02-20</text>
<text x="501.1" y="846.8" font-family='"Noto Sans CJK SC","DejaVu Sans",sans-serif' font-size="14" fill="#6e7079" text-anchor="middle" textLength="41.5" lengthAdjust="spacingAndGlyphs">( W 8 )</text>
<text x="599.5" y="832.6" font-family='"Noto Sans CJK SC","DejaVu Sans",sans-serif' font-size="14" fill="#6e7079" text-anchor="middle" textLength="75" lengthAdjust="spacingAndGlyphs">2024-03-21</text>
<text x="599.5" y="846.8" font-family='"Noto Sans CJK SC","DejaVu Sans",sans-serif' font-size="14" fill="#6e7079" text-anchor="middle" textLength="51.5" lengthAdjust="spacingAndGlyphs">( W 12 )</text>
<text x="697.9" y="832.6" font-family='"Noto Sans CJK SC","DejaVu Sans",sans-serif' font-size="14" fill="#6e7079" text-anchor="middle" textLength="75" lengthAdjust="spacingAndGlyphs">2024-04-20</text>
<text x="697.9" y="846.8" font-family='"Noto Sans CJK SC","DejaVu Sans",sans-serif' font-size="14" fill="#6e7079" text-anchor="middle" textLength="51.5" lengthAdjust="spacingAndGlyphs">( W 16 )</text>
<text x="796.4" y="832.6" font-family='"Noto Sans CJK SC","DejaVu Sans",sans-serif' font-size="14" fill="#6e7079" text-anchor="middle" textLength="75" lengthAdjust="spacingAndGlyphs">2024-05-20</text>
<text x="796.4" y="846.8" font-family='"Noto Sans CJK SC","DejaVu Sans",sans-serif' font-size="14" fill="#6e7079" text-anchor="middle" textLength="51.5" lengthAdjust="spacingAndGlyphs">( W 21 )</text>
<text x="894.8" y="832.6" font-family='"Noto Sans CJK SC","DejaVu Sans",sans-serif' font-size="14" fill="#6e7079" text-anchor="middle" textLength="75" lengthAdjust="spacingAndGlyphs">2024-06-19</text>
<text x="894.8" y="846.8" font-family='"Noto Sans CJK SC","DejaVu Sans",sans-serif' font-size="14" fill="#6e7079" text-anchor="middle" textLength="51.5" lengthAdjust="spacingAndGlyphs">( W 25 )</text>
<text x="993.2" y="832.6" font-family='"Noto Sans CJK SC","DejaVu Sans",sans-serif' font-size="14" fill="#6e7079" text-anchor="middle" textLength="75" lengthAdjust="spacingAndGlyphs">2024-07-19</text>
<text x="993.2" y="846.8" font-family='"Noto Sans CJK SC","DejaVu Sans",sans-serif' font-size="14" fill="#6e7079" text-anchor="middle" textLength="51.5" lengthAdjust="spacingAndGlyphs">( W 29 )</text>
<text x="1091.6" y="832.6" font-family='"Noto Sans CJK SC","DejaVu Sans",sans-serif' font-size="14" fill="#6e7079" text-anchor="middle" textLength="75" lengthAdjust="spacingAndGlyphs">2024-08-18</text>
<text x="1091.6" y="846.8" font-family='"Noto Sans CJK SC","DejaVu Sans",sans-serif' font-size="14" fill="#6e7079" text-anchor="middle" textLength="51.5" lengthAdjust="spacingAndGlyphs">( W 33 )</text>
<text x="1190.0" y="832.6" font-family='"Noto Sans CJK SC","DejaVu Sans",sans-serif' font-size="14" fill="#6e7079" text-anchor="middle" textLength="75" lengthAdjust="spacingAndGlyphs">2024-09-17</text>
<text x="1190.0" y="846.8" font-family='"Noto Sans CJK SC","DejaVu Sans",sans-serif' font-size="14" fill="#6e7079" text-anchor="middle" textLength="51.5" lengthAdjust="spacingAndGlyphs">( W 38 )</text>
<text x="1288.4" y="832.6" font-family='"Noto Sans CJK SC","DejaVu Sans",sans-serif' font-size="14" fill="#6e7079" text-anchor="middle" textLength="75" lengthAdjust="spacingAndGlyphs">2024-10-17</text>
<text x="1288.4" y="846.8" font-family='"Noto Sans CJK SC","DejaVu Sans",sans-serif' font-size="14" fill="#6e7079" text-anchor="middle" textLength="51.5" lengthAdjust="spacingAndGlyphs">( W 42 )</text>
<text x="1386.8" y="832.6" font-family='"Noto Sans CJK SC","DejaVu Sans",sans-serif' font-size="14" fill="#6e7079" text-anchor="middle" textLength="75" lengthAdjust="spacingAndGlyphs">2024-11-16</text>
<text x="1386.8" y="846.8" font-family='"Noto Sans CJK SC","DejaVu Sans",sans-serif' font-size="14" fill="#6e7079" text-anchor="middle" textLength="51.5" lengthAdjust="spacingAndGlyphs">( W 46 )</text>
<path d="M206.4 813V819M304.8 813V819M403.2 813V819M501.6 813V819M600.0 813V819M698.4 813V819M796.9 813V819M895.3 813V819M993.7 813V819M1092.1 813V819M1190.5 813V819M1288.9 813V819M1387.3 813V819" stroke="#6e7079" stroke-width="1"/>
<text x="169" y="816.9" font-family='"Noto Sans CJK SC","DejaVu Sans",sans-serif' font-size="14" fill="#6e7079" text-anchor="end" textLength="8" lengthAdjust="spacingAndGlyphs">0</text>
<text x="169" y="762.1" font-family='"Noto Sans CJK SC","DejaVu Sans",sans-serif' font-size="14" fill="#6e7079" text-anchor="end" textLength="34.4" lengthAdjust="spacingAndGlyphs">2,000</text>
<text x="169" y="707.4" font-family='"Noto Sans CJK SC","DejaVu Sans",sans-serif' font-size="14" fill="#6e7079" text-anchor="end" textLength="34.4" lengthAdjust="spacingAndGlyphs">4,000</text>
<text x="169" y="652.7" font-family='"Noto Sans CJK SC","DejaVu Sans",sans-serif' font-size="14" fill="#6e7079" text-anchor="end" textLength="34.4" lengthAdjust="spacingAndGlyphs">6,000</text>
<text x="169" y="598.0" font-family='"Noto Sans CJK SC","DejaVu Sans",sans-serif' font-size="14" fill="#6e7079" text-anchor="end" textLength="34.4" lengthAdjust="spacingAndGlyphs">8,000</text>
<text x="169" y="543.2" font-family='"Noto Sans CJK SC","DejaVu Sans",sans-serif' font-size="14" fill="#6e7079" text-anchor="end" textLength="42.5" lengthAdjust="spacingAndGlyphs">10,000</text>
<text x="169" y="488.5" font-family='"Noto Sans CJK SC","DejaVu Sans",sans-serif' font-size="14" fill="#6e7079" text-anchor="end" textLength="42.5" lengthAdjust="spacingAndGlyphs">12,000</text>
<text x="1412" y="544.6" font-family='"Noto Sans CJK SC","DejaVu Sans",sans-serif' font-size="14" fill="#333" textLength="32.2" lengthAdjust="spacingAndGlyphs">9960</text>
<text x="1412" y="785.5" font-family='"Noto Sans CJK SC","DejaVu Sans",sans-serif' font-size="14" fill="#333" textLength="32.2" lengthAdjust="spacingAndGlyphs">1150</text>
<rect x="433" y="424.5" width="29" height="16" rx="4" fill="#e21313" stroke="#8b0000" stroke-width="1.6"/>
<text x="467.7" y="436.4" font-family='"Noto Sans CJK SC","DejaVu Sans",sans-serif' font-size="14" fill="#333" textLength="31.3" lengthAdjust="spacingAndGlyphs">Daily</text>
<path d="M511.8 432.5H539.8" stroke="#cccccc" stroke-width="2"/>
<circle cx="525.8" cy="432.5" r="5.7" fill="#fff" stroke="#cccccc" stroke-width="2"/>
<text x="545.7" y="436.4" font-family='"Noto Sans CJK SC","DejaVu Sans",sans-serif' font-size="14" fill="#cccccc" textLength="32.3" lengthAdjust="spacingAndGlyphs">3Day</text>
<path d="M590.7 432.5H618.7" stroke="#cccccc" stroke-width="2"/>
<circle cx="604.7" cy="432.5" r="5.7" fill="#fff" stroke="#cccccc" stroke-width="2"/>
<text x="624.7" y="436.4" font-family='"Noto Sans CJK SC","DejaVu Sans",sans-serif' font-size="14" fill="#cccccc" textLength="32.3" lengthAdjust="spacingAndGlyphs">7Day</text>
<path d="M670 432.5H698" stroke="#cccccc" stroke-width="2"/>
<circle cx="684" cy="432.5" r="5.7" fill="#fff" stroke="#cccccc" stroke-width="2"/>
<text x="703.6" y="436.4" font-family='"Noto Sans CJK SC","DejaVu Sans",sans-serif' font-size="14" fill="#cccccc" textLength="44" lengthAdjust="spacingAndGlyphs">2Week</text>
<path d="M759.8 432.5H787.8" stroke="#cccccc" stroke-width="2"/>
<circle cx="773.8" cy="432.5" r="5.7" fill="#fff" stroke="#cccccc" stroke-width="2"/>
<text x="794" y="436.4" font-family='"Noto Sans CJK SC","DejaVu Sans",sans-serif' font-size="14" fill="#cccccc" textLength="43.4" lengthAdjust="spacingAndGlyphs">3Week</text>
<path d="M850 432.5H878" stroke="#cccccc" stroke-width="2"/>
<circle cx="864" cy="432.5" r="5.7" fill="#fff" stroke="#cccccc" stroke-width="2"/>
<text x="884.4" y="436.4" font-family='"Noto Sans CJK SC","DejaVu Sans",sans-serif' font-size="14" fill="#cccccc" textLength="50.5" lengthAdjust="spacingAndGlyphs">1Month</text>
<path d="M947.4 432.5H975.4" stroke="#8fcaa9" stroke-width="2"/>
<circle cx="961.4" cy="432.5" r="5.7" fill="#fff" stroke="#3a9d6a" stroke-width="2"/>
<text x="981.4" y="436.4" font-family='"Noto Sans CJK SC","DejaVu Sans",sans-serif' font-size="14" fill="#333" textLength="57.6" lengthAdjust="spacingAndGlyphs">ETD Avg.</text>
<path d="M1051 432.5H1079" stroke="#cccccc" stroke-width="2"/>
<circle cx="1065" cy="432.5" r="5.7" fill="#fff" stroke="#cccccc" stroke-width="2"/>
<text x="1085.5" y="436.4" font-family='"Noto Sans CJK SC","DejaVu Sans",sans-serif' font-size="14" fill="#cccccc" textLength="33.5" lengthAdjust="spacingAndGlyphs">MoM</text>
</svg>
<div class="abs" style="left:1545px;top:280px;width:7px;height:573px;background:#f1f1f1"></div>
<div class="abs" style="left:1547px;top:305px;width:5px;height:231px;background:#c1c1c1"></div>
<div class="abs" style="left:0;top:849px;width:1545px;height:4px;background:#f5f5f5"></div>
</body></html>
